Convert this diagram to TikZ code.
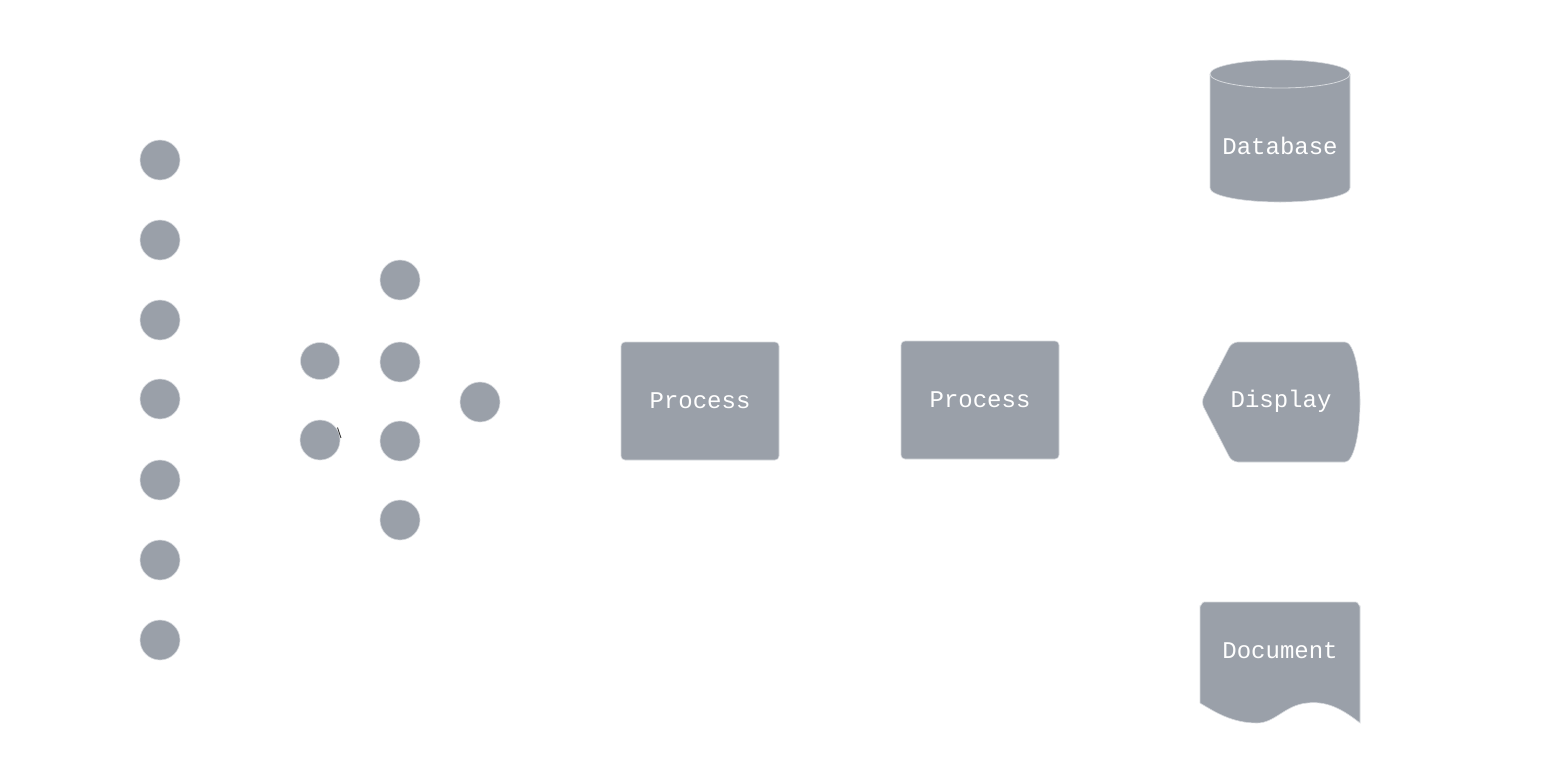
\documentclass[tikz,border=0pt]{standalone}
\usepackage{fontspec}
\setmonofont{Liberation Mono}
\usetikzlibrary{shapes.geometric}
\definecolor{shapegray}{RGB}{154,160,169}
\definecolor{edgegray}{RGB}{215,218,222}
\begin{document}
\begin{tikzpicture}[x=1pt,y=-1pt,
  dot/.style={circle,fill=shapegray,draw=edgegray,line width=0.6pt,minimum size=40pt,inner sep=0pt},
  blob/.style={fill=shapegray,draw=edgegray,line width=0.6pt},
  lbl/.style={text=white,font=\ttfamily\fontsize{24}{26}\selectfont}]
\useasboundingbox (0,0) rectangle (1560,763);
% left column
\foreach \y [count=\i] in {160,240,320,399,480,560,640}
  \node[dot] (a\i) at (160,\y) {};
% second column
\node[ellipse,fill=shapegray,draw=edgegray,line width=0.6pt,minimum width=39pt,minimum height=37pt,inner sep=0pt] (b1) at (320,361) {};
\node[dot] (b2) at (320,440) {};
% third column
\foreach \y [count=\i] in {280,362,441,520}
  \node[dot] (c\i) at (400,\y) {};
\node[dot] (d1) at (480,402) {};
\coordinate (t1) at (337.5,427.5);
\coordinate (t2) at (341,438);
\draw[line width=0.8pt,black!80] (t1) -- (t2);
% process boxes
\node[rectangle,rounded corners=4pt,blob,minimum width=158pt,minimum height=118pt] (p1) at (700,401) {};
\node[lbl] at (p1) {Process};
\node[rectangle,rounded corners=4pt,blob,minimum width=158pt,minimum height=118pt] (p2) at (980,400) {};
\node[lbl] at (p2) {Process};
% database
\path[blob] (1210,74) -- (1210,188) arc[start angle=180,end angle=0,x radius=70,y radius=14] -- (1350,74)
  arc[start angle=0,end angle=-180,x radius=70,y radius=14] -- cycle;
\draw[edgegray,line width=0.8pt] (1210,74) arc[start angle=180,end angle=0,x radius=70,y radius=14];
\node[lbl] (db) at (1280,146) {Database};
% display
\path[blob] (1345,342) arc[start angle=-90,end angle=90,x radius=15,y radius=60]
  [rounded corners=6pt] -- (1232,462) -- (1201,402) -- (1232,342) [sharp corners] -- cycle;
\node[lbl] (disp) at (1281,401) {Display};
% document
\path[blob] (1200,703) -- (1200,606) to[out=-90,in=180] (1204,602) -- (1356,602) to[out=0,in=-90] (1360,606)
  -- (1360,723) .. controls (1340,707) and (1325,701) .. (1307,703)
  .. controls (1285,705) and (1275,723) .. (1257,723)
  .. controls (1232,723) and (1215,712) .. (1200,703) -- cycle;
\node[lbl] (doc) at (1280,651) {Document};
\end{tikzpicture}
\end{document}
